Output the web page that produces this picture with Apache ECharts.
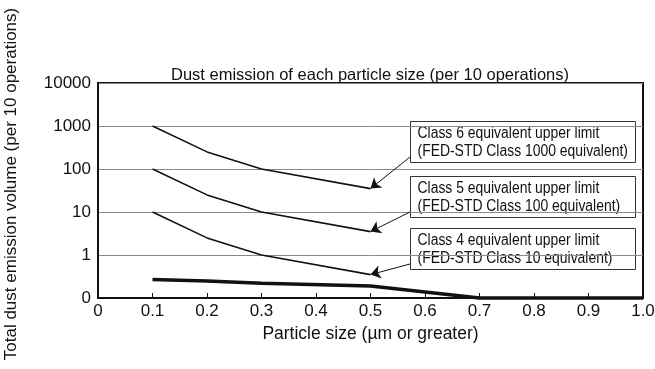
<!DOCTYPE html>
<html>
<head>
<meta charset="utf-8">
<script src="https://cdn.jsdelivr.net/npm/echarts@6/dist/echarts.min.js"></script>
<style>
html, body { margin: 0; padding: 0; background: #fff; }
#chart { width: 655px; height: 369px; }
</style>
</head>
<body>
<div id="chart"></div>
<script>
// particle sizes (µm) and upper limits of each class
const sizes = [0.1, 0.2, 0.3, 0.5];
const class6 = [1000, 250, 100, 35];
const class5 = [100, 25, 10, 3.5];
const class4 = [10, 2.5, 1, 0.35];

// measured emission; the bottom of the log axis is labelled "0", so 0.1 stands for zero
const measuredSizes = [0.1, 0.2, 0.3, 0.5, 0.7, 1.0];
const measured = [0.27, 0.25, 0.22, 0.19, 0.1, 0.1];

const yTickLabels = ['0', '1', '10', '100', '1000', '10000'];

const notes = [
    ['Class 6 equivalent upper limit', '(FED-STD Class 1000 equivalent)'],
    ['Class 5 equivalent upper limit', '(FED-STD Class 100 equivalent)'],
    ['Class 4 equivalent upper limit', '(FED-STD Class 10 equivalent)'],
];

const FONT = '"Liberation Sans", Arial, sans-serif';

// box layout (pixels)
const boxTops = [121, 176, 228];
const boxLeft = 410;
const boxW = 225;
const boxH = 41;

const chart = echarts.init(document.getElementById('chart'));

function pairs(xs, ys) {
    return xs.map((x, i) => [x, ys[i]]);
}

function limitSeries(values, i) {
    return {
        type: 'line',
        data: pairs(sizes, values),
        symbol: 'none',
        lineStyle: { color: '#111', width: 1.6 },
        z: 3,
        markLine: {
            silent: true,
            symbol: ['none', 'arrow'],
            symbolSize: 10,
            label: { show: false },
            lineStyle: { color: '#111', width: 1, type: 'solid' },
            data: [[
                { x: boxLeft, y: boxTops[i] + boxH - 5 },
                { coord: [sizes[sizes.length - 1], values[values.length - 1]] },
            ]],
        },
    };
}

const option = {
    animation: false,
    textStyle: { fontFamily: FONT },
    title: {
        text: 'Dust emission of each particle size (per 10 operations)',
        left: 365,
        textAlign: 'center',
        top: 62,
        textStyle: { fontSize: 16.5, fontWeight: 'normal', color: '#111', fontFamily: FONT },
    },
    grid: {
        left: 98, right: 12, top: 83, bottom: 71,
        outerBoundsMode: 'none',
        containLabel: false,
        show: true, borderColor: '#111', borderWidth: 2,
    },
    xAxis: {
        type: 'value',
        min: 0, max: 1, interval: 0.1,
        name: 'Particle size (µm or greater)',
        nameLocation: 'middle',
        nameGap: 24,
        nameTextStyle: { fontSize: 17.5, color: '#111' },
        axisLine: { lineStyle: { color: '#111', width: 2 } },
        axisTick: { inside: true, length: 5, lineStyle: { color: '#111' } },
        axisLabel: {
            fontSize: 17, color: '#111', margin: 5,
            formatter: v => (v === 0 ? '0' : v.toFixed(1)),
        },
        splitLine: { show: false },
    },
    yAxis: {
        type: 'log',
        logBase: 10,
        min: 0.1, max: 10000,
        name: 'Total dust emission volume (per 10 operations)',
        nameLocation: 'middle',
        nameGap: 78,
        nameTextStyle: { fontSize: 17, color: '#111', padding: [0, 0, 0, 13] },
        axisLine: { show: true, lineStyle: { color: '#111', width: 2 } },
        axisTick: { show: false },
        axisLabel: {
            fontSize: 17, color: '#111', margin: 7,
            formatter: v => yTickLabels[Math.round(Math.log10(v)) + 1],
        },
        splitLine: { show: true, lineStyle: { color: '#8a8a8a', width: 1 } },
    },
    series: [
        limitSeries(class6, 0),
        limitSeries(class5, 1),
        limitSeries(class4, 2),
        {
            type: 'line',
            data: pairs(measuredSizes, measured),
            symbol: 'none',
            clip: false,
            lineStyle: { color: '#111', width: 3.5 },
            z: 4,
        },
    ],
    graphic: notes.map((lines, i) => ({
        type: 'group',
        left: boxLeft,
        top: boxTops[i],
        z: 10,
        children: [
            {
                type: 'rect',
                shape: { x: 0, y: 0, width: boxW, height: boxH },
                style: { fill: '#fff', stroke: '#333', lineWidth: 1 },
            },
            {
                type: 'text',
                x: 7, y: 3,
                scaleX: 0.87,
                style: {
                    text: lines.join('\n'),
                    font: '16px ' + FONT,
                    lineHeight: 18,
                    fill: '#111',
                },
            },
        ],
    })),
};

chart.setOption(option);
</script>
</body>
</html>
